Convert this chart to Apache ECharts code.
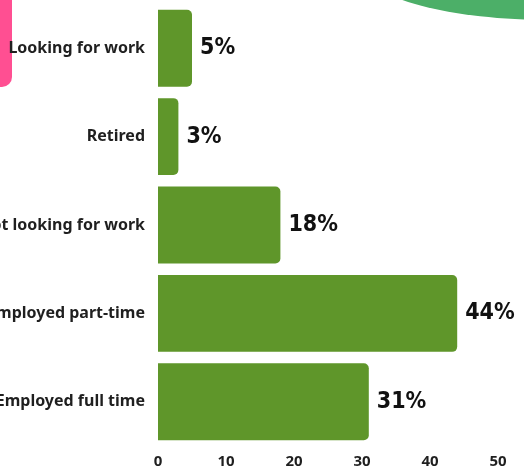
<!DOCTYPE html>
<html>
<head>
<meta charset="utf-8">
<script src="https://cdn.jsdelivr.net/npm/echarts@6/dist/echarts.min.js"></script>
<style>
  html, body { margin: 0; padding: 0; background: #ffffff; }
  #chart { width: 524px; height: 470px; }
</style>
</head>
<body>
<div id="chart"></div>
<script>
// Employment status shares (percent), listed bottom to top
const categories = ['Employed full time', 'Employed part-time', 'Not looking for work', 'Retired', 'Looking for work'];
const shares = [31, 44, 18, 3, 5];
const axisTicks = [0, 10, 20, 30, 40, 50];

const chart = echarts.init(document.getElementById('chart'), null, { renderer: 'canvas' });

chart.setOption({
  backgroundColor: '#ffffff',
  animation: false,
  graphic: [
    // pink tab at the top-left corner
    { type: 'rect', z: -1, shape: { x: -20, y: -20, width: 32, height: 107, r: 10 }, style: { fill: '#ff4f92' } },
    // green arc peeking in at the top-right corner
    { type: 'ellipse', z: -1, shape: { cx: 550, cy: -34, rx: 190, ry: 54 }, style: { fill: '#4caf68' } }
  ],
  grid: { left: 158, right: 26, top: 4, bottom: 24, containLabel: false, outerBoundsMode: 'none' },
  xAxis: {
    type: 'value',
    min: axisTicks[0],
    max: axisTicks[axisTicks.length - 1],
    interval: 10,
    splitLine: { show: false },
    axisLine: { show: false },
    axisTick: { show: false },
    axisLabel: { color: '#1f1f1f', fontFamily: 'Noto Sans', fontWeight: 'bold', fontSize: 15, margin: 8 }
  },
  yAxis: {
    type: 'category',
    data: categories,
    axisLine: { show: false },
    axisTick: { show: false },
    axisLabel: { color: '#1f1f1f', fontFamily: 'Noto Sans', fontWeight: 'bold', fontSize: 16, margin: 13, padding: [4, 0, 0, 0] }
  },
  series: [{
    type: 'bar',
    data: shares,
    barWidth: '87%',
    itemStyle: { color: '#5f962a', borderRadius: [0, 5, 5, 0] },
    label: {
      show: true,
      position: 'right',
      distance: 8,
      formatter: '{c}%',
      color: '#111111',
      fontFamily: 'DejaVu Sans Condensed',
      fontWeight: 'bold',
      fontSize: 23
    }
  }]
});
</script>
</body>
</html>
